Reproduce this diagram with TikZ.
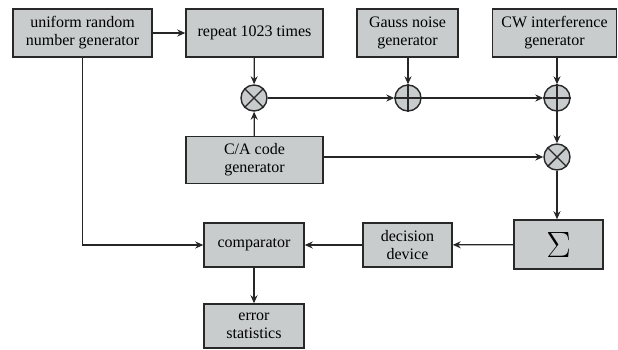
\documentclass[tikz,border=0pt]{standalone}
\usepackage{fontspec}
\usepackage{graphicx}
\setmainfont{Liberation Serif}
\usetikzlibrary{arrows.meta}
\definecolor{boxfill}{RGB}{200,204,204}
\definecolor{edge}{RGB}{40,40,40}
\tikzset{
  blk/.style={draw=edge, line width=1.5pt, fill=boxfill, inner sep=0pt, align=center,
    font=\fontsize{16}{18}\selectfont},
  sumc/.style={circle, draw=edge, line width=1.4pt, fill=boxfill, minimum size=26pt, inner sep=0pt},
  conn/.style={line width=1.2pt, draw=black!85, -{Stealth[length=8pt,width=7pt]}},
}
\begin{document}
\begin{tikzpicture}[x=1pt,y=-1pt]
\useasboundingbox (0,0) rectangle (618,349);
% blocks
\node[blk, minimum width=139pt, minimum height=48pt] (urng) at (82.5,33) {uniform random\\number generator};
\node[blk, minimum width=137pt, minimum height=48pt] (rep) at (254.5,33) {repeat 1023 times};
\node[blk, minimum width=101pt, minimum height=48pt] (gauss) at (407.5,33) {Gauss noise\\generator};
\node[blk, minimum width=124pt, minimum height=48pt] (cw) at (554.5,33) {CW interference\\generator};
\node[blk, minimum width=137pt, minimum height=47pt] (ca) at (254.5,160) {C/A code\\generator};
\node[blk, minimum width=89pt, minimum height=49pt] (sig) at (558.5,244.5) {\resizebox{!}{25pt}{$\Sigma$}};
\node[blk, minimum width=89pt, minimum height=44pt] (dec) at (407.5,245) {decision\\device};
\node[blk, minimum width=100pt, minimum height=44pt] (cmp) at (254,245) {comparator};
\node[blk, minimum width=100pt, minimum height=44pt] (err) at (254,326) {error\\statistics};
% circles
\node[sumc] (m1) at (254,98) {};
\node[sumc] (a1) at (408,98) {};
\node[sumc] (a2) at (557,98) {};
\node[sumc] (m2) at (557,157) {};
\foreach \n in {m1,m2}{
  \draw[line width=1.4pt, draw=edge] (\n.45) -- (\n.225) (\n.135) -- (\n.315);
}
\foreach \n in {a1,a2}{
  \draw[line width=1.4pt, draw=edge] (\n.north) -- (\n.south) (\n.west) -- (\n.east);
}
% connectors
\draw[conn] (urng) -- (rep);
\draw[conn] (rep) -- (m1);
\draw[conn] (ca) -- (m1);
\draw[conn] (m1) -- (a1);
\draw[conn] (gauss.south -| a1) -- (a1);
\draw[conn] (a1) -- (a2);
\draw[conn] (cw.south -| a2) -- (a2);
\draw[conn] (a2) -- (m2);
\draw[conn] (ca.east |- m2) -- (m2);
\draw[conn] (m2) -- (m2 |- sig.north);
\draw[conn] (sig) -- (dec);
\draw[conn] (dec) -- (cmp);
\coordinate (bend) at (urng.south |- cmp.west);
\draw[conn] (urng.south) -- (bend) -- (cmp.west);
\draw[conn] (cmp) -- (err);
\end{tikzpicture}
\end{document}
